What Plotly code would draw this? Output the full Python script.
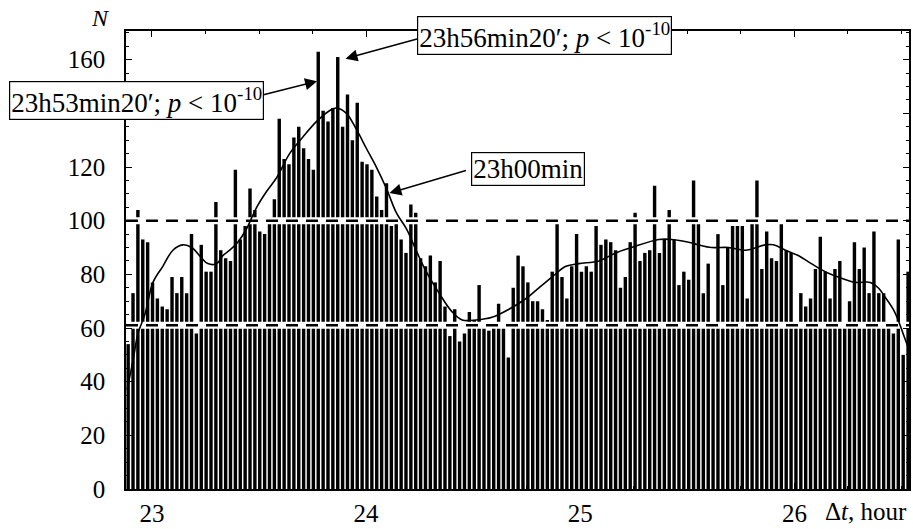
import plotly.graph_objects as go

# ---------------- data ----------------
BIN_START = 22.889      # centre of first bin, hours
BIN_WIDTH = 0.02276     # hours per bin

counts = [
    54, 73, 104, 93, 92, 77, 71, 68, 67, 79,
    73, 79, 73, 95, 58, 91, 81, 81, 107, 89,
    86, 85, 119, 93, 98, 112, 104, 96, 95, 99,
    108, 138, 123, 121, 131, 135, 127, 123, 119, 163,
    141, 137, 142, 161, 135, 147, 130, 144, 122, 121,
    119, 109, 104, 114, 98, 101, 93, 88, 106, 103,
    86, 83, 87, 77, 85, 68, 57, 67, 55, 58,
    66, 63, 76, 62, 59, 61, 69, 60, 49, 75,
    87, 83, 77, 70, 70, 67, 63, 81, 100, 79,
    71, 83, 95, 81, 83, 81, 98, 91, 93, 92,
    89, 75, 79, 92, 103, 85, 88, 89, 113, 88,
    93, 104, 93, 76, 81, 78, 115, 99, 73, 84,
    60, 95, 76, 90, 98, 98, 98, 71, 99, 115,
    82, 96, 86, 85, 100, 89, 88, 62, 73, 68,
    71, 82, 94, 81, 71, 82, 85, 60, 70, 92,
    82, 90, 73, 96, 73, 73, 60, 58, 93, 50,
    81,
]
bin_x = [BIN_START + i * BIN_WIDTH for i in range(len(counts))]

curve_x = [22.884, 22.912, 22.935, 22.967, 23.005, 23.051, 23.098, 23.144, 23.186, 23.233,
           23.261, 23.303, 23.331, 23.363, 23.401, 23.442, 23.489, 23.536, 23.582, 23.643,
           23.703, 23.769, 23.829, 23.862, 23.908, 23.955, 24.001, 24.048, 24.095, 24.141,
           24.188, 24.239, 24.281, 24.341, 24.402, 24.449, 24.514, 24.588, 24.667, 24.747,
           24.807, 24.868, 24.933, 24.993, 25.087, 25.166, 25.240, 25.366, 25.427, 25.506,
           25.552, 25.613, 25.692, 25.771, 25.864, 25.902, 25.958, 26.018, 26.079, 26.144,
           26.205, 26.284, 26.354, 26.391, 26.428, 26.461, 26.484, 26.507, 26.530]
curve_y = [37, 48, 58, 65, 77, 83, 89, 91, 90, 86,
           84, 84, 87, 89, 92, 97, 105, 111, 116, 125,
           131, 137, 141, 142, 140, 134, 127, 120, 112, 103,
           97, 88, 81, 73, 66, 63, 63, 64, 67, 71,
           75, 79, 83, 84, 85, 88, 90, 93, 93, 92,
           91, 90, 90, 89, 91, 91, 89, 87, 84, 81,
           79, 77, 77, 75, 71, 67, 63, 58, 53]

levels = [100, 61]
x_range = [22.879, 26.535]
y_range = [0, 170.7]
x_ticks = [23, 24, 25, 26]
y_ticks = [0, 20, 40, 60, 80, 100, 120, 140, 160]
y_ticktext = ["0", "20", "40", "60", "80", "100", "120", "", "160"]

FONT = "Liberation Serif, Times New Roman, serif"

fig = go.Figure()
fig.add_trace(go.Bar(x=bin_x, y=counts, marker=dict(color="black", line=dict(width=0)),
                     showlegend=False, hoverinfo="skip"))

for lv in levels:
    fig.add_trace(go.Scatter(x=x_range, y=[lv, lv], mode="lines",
                             line=dict(color="white", width=7), showlegend=False, hoverinfo="skip"))
    fig.add_trace(go.Scatter(x=x_range, y=[lv, lv], mode="lines",
                             line=dict(color="black", width=2.5, dash="12px,8px"),
                             showlegend=False, hoverinfo="skip"))

fig.add_trace(go.Scatter(x=curve_x, y=curve_y, mode="lines",
                         line=dict(color="black", width=1.6, shape="spline", smoothing=1),
                         showlegend=False, hoverinfo="skip"))

axis_common = dict(showline=True, linecolor="black", linewidth=1.5, mirror="allticks",
                   ticks="inside", tickcolor="black", tickwidth=1.2, showgrid=False,
                   zeroline=False, tickfont=dict(family=FONT, size=25, color="black"))

fig.update_xaxes(range=x_range, tickvals=x_ticks, ticklen=6,
                 minor=dict(dtick=0.25, ticks="inside", ticklen=3, tickcolor="black"),
                 ticklabelstandoff=1, **axis_common)
fig.update_yaxes(range=y_range, tickvals=y_ticks, ticktext=y_ticktext, ticklen=6,
                 minor=dict(dtick=5, ticks="inside", ticklen=3, tickcolor="black"),
                 ticklabelstandoff=14, **axis_common)

box = dict(bgcolor="white", bordercolor="black", borderwidth=1.2, borderpad=1,
           font=dict(family=FONT, size=27, color="black"), showarrow=False)
arrow = dict(text="", showarrow=True, arrowhead=2, arrowsize=1.6, arrowwidth=1.5,
             arrowcolor="black", xref="x", yref="y")

annotations = [
    dict(text="<i>N</i>", xref="paper", yref="paper", x=-0.032, y=1.028,
         xanchor="center", yanchor="middle", showarrow=False,
         font=dict(family=FONT, size=24, color="black")),
    dict(text="Δ<i>t</i>, hour", xref="paper", yref="paper", x=1.0, y=-0.05,
         xanchor="right", yanchor="middle", showarrow=False,
         font=dict(family=FONT, size=25, color="black")),
    dict(x=23.771, y=152.0, ax=-55, ay=14, **arrow),
    dict(x=23.904, y=160.4, ax=73, ay=-20, **arrow),
    dict(x=24.109, y=110.3, ax=78, ay=-23, **arrow),
    dict(text="23h53min20′; <i>p</i> &lt; 10<sup>-10</sup>", xref="paper", yref="paper",
         x=0.0134, y=0.8475, xanchor="center", yanchor="middle", **box),
    dict(text="23h56min20′; <i>p</i> &lt; 10<sup>-10</sup>", xref="paper", yref="paper",
         x=0.535, y=0.9893, xanchor="center", yanchor="middle", **box),
    dict(text="23h00min", xref="paper", yref="paper",
         x=0.514, y=0.698, xanchor="center", yanchor="middle", **box),
]

fig.update_layout(width=913, height=529, margin=dict(l=126, r=2, t=31, b=32),
                  plot_bgcolor="white", paper_bgcolor="white", bargap=0.3,
                  annotations=annotations, font=dict(family=FONT, color="black"))

fig.write_html("out.html")
